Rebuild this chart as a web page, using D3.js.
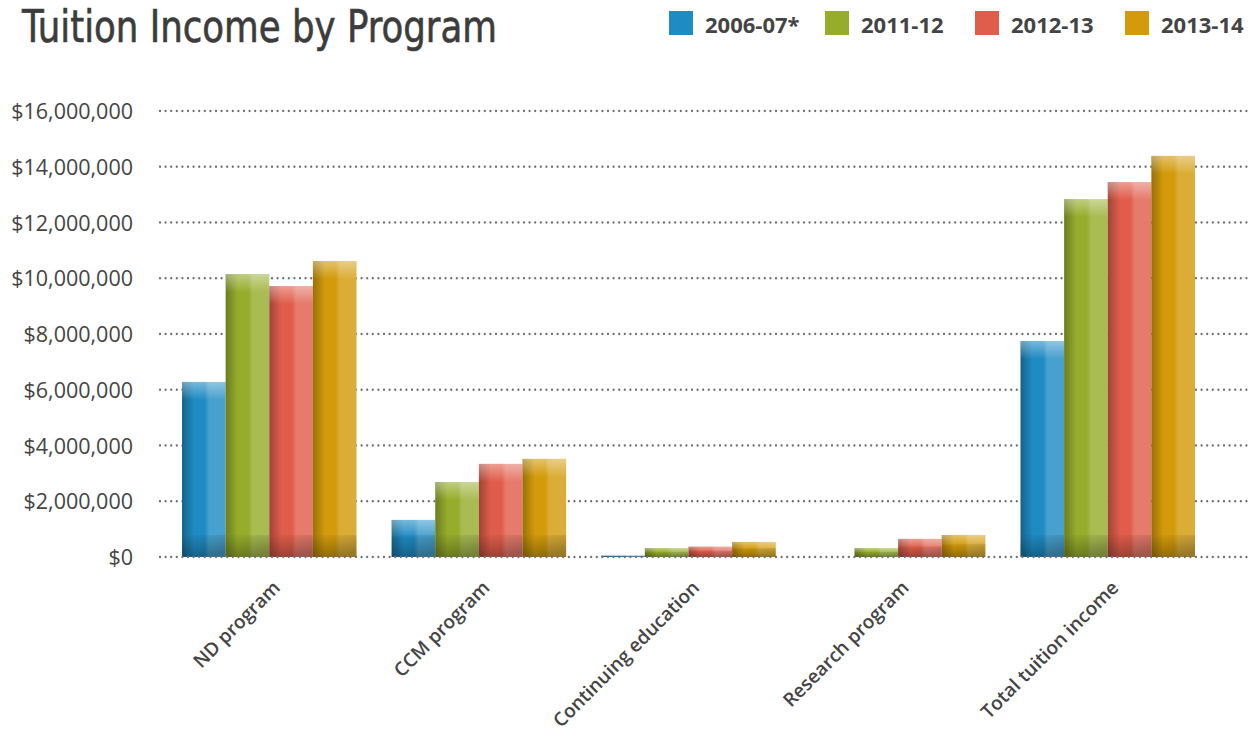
<!DOCTYPE html>
<html>
<head>
<meta charset="utf-8">
<script src="https://cdn.jsdelivr.net/npm/d3@7"></script>
<style>
  html, body { margin: 0; padding: 0; background: #ffffff; }
  svg { display: block; }
</style>
</head>
<body>
<svg id="chart" width="1254" height="739"></svg>
<script>
// ---------- data ----------
const categories = ["ND program", "CCM program", "Continuing education", "Research program", "Total tuition income"];
const seriesNames = ["2006-07*", "2011-12", "2012-13", "2013-14"];
const values2006 = [6280000, 1330000, 50000, null, 7750000];
const values2011 = [10150000, 2690000, 320000, 320000, 12840000];
const values2012 = [9720000, 3340000, 370000, 650000, 13450000];
const values2013 = [10620000, 3520000, 540000, 790000, 14390000];
const yTickValues = [0, 2000000, 4000000, 6000000, 8000000, 10000000, 12000000, 14000000, 16000000];
const seriesColors = ["#1e8bc3", "#95ad2b", "#e05d4b", "#d39b0b"];
const titleText = "Tuition Income by Program";

const seriesValues = [values2006, values2011, values2012, values2013];

// ---------- layout ----------
const svg = d3.select("#chart");
const plot = { left: 182, right: 1195, top: 111, bottom: 557 };
const gridX0 = 160, gridX1 = 1247;

const x = d3.scaleBand().domain(categories).range([plot.left, plot.right]).paddingInner(0.1675).paddingOuter(0);
const xs = d3.scaleBand().domain(seriesNames).range([0, x.bandwidth()]).padding(0);
const y = d3.scaleLinear().domain([0, 16000000]).range([plot.bottom, plot.top]);
const color = d3.scaleOrdinal().domain(seriesNames).range(seriesColors);

const defs = svg.append("defs");
seriesNames.forEach((s, i) => {
  const base = d3.color(seriesColors[i]);
  const dark = d3.interpolateRgb(base, "#000")(0.28);
  const light = d3.interpolateRgb(base, "#fff")(0.18);
  const g = defs.append("linearGradient").attr("id", "grad" + i).attr("x1", "0").attr("x2", "1").attr("y1", "0").attr("y2", "0");
  g.append("stop").attr("offset", "0%").attr("stop-color", dark);
  g.append("stop").attr("offset", "28%").attr("stop-color", base.formatHex());
  g.append("stop").attr("offset", "52%").attr("stop-color", base.formatHex());
  g.append("stop").attr("offset", "62%").attr("stop-color", light);
  g.append("stop").attr("offset", "100%").attr("stop-color", light);
});
const hi = defs.append("linearGradient").attr("id", "hiGrad").attr("x1", "0").attr("x2", "0").attr("y1", "0").attr("y2", "1");
hi.append("stop").attr("offset", "0%").attr("stop-color", "#fff").attr("stop-opacity", 0.4);
hi.append("stop").attr("offset", "100%").attr("stop-color", "#fff").attr("stop-opacity", 0);
const sh = defs.append("linearGradient").attr("id", "shGrad").attr("x1", "0").attr("x2", "0.35").attr("y1", "0").attr("y2", "1");
sh.append("stop").attr("offset", "0%").attr("stop-color", "#000").attr("stop-opacity", 0);
sh.append("stop").attr("offset", "100%").attr("stop-color", "#000").attr("stop-opacity", 0.3);

// ---------- title ----------
svg.append("text")
  .attr("x", 22).attr("y", 42)
  .attr("font-family", "'Liberation Sans Narrow', 'DejaVu Sans Condensed', sans-serif")
  .attr("font-size", 44)
  .attr("fill", "#3c3c3c")
  .attr("stroke", "#3c3c3c").attr("stroke-width", 0.6)
  .attr("textLength", 475)
  .attr("lengthAdjust", "spacingAndGlyphs")
  .text(titleText);

// ---------- legend ----------
const legendX = [669, 825, 975, 1125];
const legend = svg.append("g");
seriesNames.forEach((s, i) => {
  const g = legend.append("g").attr("transform", `translate(${legendX[i]},0)`);
  g.append("rect").attr("x", 0).attr("y", 11).attr("width", 24).attr("height", 24).attr("fill", color(s));
  g.append("text").attr("x", 36).attr("y", 33)
    .attr("font-family", "'Open Sans', sans-serif").attr("font-weight", 700)
    .attr("font-size", 22).attr("fill", "#444").text(s);
});

// ---------- grid + y labels ----------
const gridG = svg.append("g");
yTickValues.filter(v => v > 0).forEach(v => {
  gridG.append("line")
    .attr("x1", gridX0).attr("x2", gridX1).attr("y1", y(v)).attr("y2", y(v))
    .attr("stroke", "#6e6e6e").attr("stroke-width", 2.3)
    .attr("stroke-linecap", "round").attr("stroke-dasharray", "0,5.6");
});

const yAxis = d3.axisLeft(y).tickValues(yTickValues).tickSize(0).tickPadding(0)
  .tickFormat(d => "$" + d3.format(",")(d));
const yAxisG = svg.append("g").attr("transform", "translate(133,0)").call(yAxis);
yAxisG.select(".domain").remove();
yAxisG.selectAll("text")
  .attr("font-family", "'Open Sans', sans-serif").attr("font-size", 21.5)
  .attr("fill", "#444").attr("dy", "0.35em");

// ---------- bars ----------
const barsG = svg.append("g");
categories.forEach((c, ci) => {
  seriesNames.forEach((s, si) => {
    const v = seriesValues[si][ci];
    if (v == null) return;
    const bx = x(c) + xs(s);
    const bw = xs.bandwidth();
    const by = y(v);
    const bh = y(0) - y(v);
    barsG.append("rect").attr("x", bx).attr("y", by).attr("width", bw).attr("height", bh)
      .attr("fill", `url(#grad${si})`);
    const hh = Math.min(18, bh * 0.5);
    barsG.append("rect").attr("x", bx).attr("y", by).attr("width", bw).attr("height", hh)
      .attr("fill", "url(#hiGrad)");
    const sH = Math.min(22, bh * 0.6);
    barsG.append("rect").attr("x", bx).attr("y", y(0) - sH).attr("width", bw).attr("height", sH)
      .attr("fill", "url(#shGrad)");
  });
});

// baseline dotted line on top
svg.append("line")
  .attr("x1", gridX0).attr("x2", gridX1).attr("y1", y(0)).attr("y2", y(0))
  .attr("stroke", "#6e6e6e").attr("stroke-width", 2.3)
  .attr("stroke-linecap", "round").attr("stroke-dasharray", "0,5.6");

// ---------- x labels ----------
const xAxis = d3.axisBottom(x).tickSize(0).tickPadding(0);
const xAxisG = svg.append("g").attr("transform", `translate(0,${y(0)})`).call(xAxis);
xAxisG.select(".domain").remove();
xAxisG.selectAll("text")
  .attr("font-family", "'Open Sans', sans-serif").attr("font-weight", 600).attr("font-size", 19)
  .attr("fill", "#444")
  .attr("text-anchor", "end")
  .attr("dy", 0)
  .attr("transform", "translate(12,32) rotate(-45)");
</script>
</body>
</html>
